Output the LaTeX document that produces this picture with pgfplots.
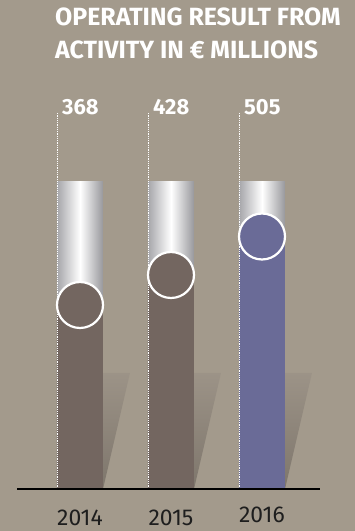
\documentclass[border=0pt]{standalone}
\usepackage{fontspec}
\setmainfont{Fira Sans}
\usepackage{pgfplots}
\pgfplotsset{compat=1.18}
\definecolor{bgcol}{HTML}{A39A8C}
\definecolor{barbrown}{HTML}{736660}
\definecolor{barpurple}{HTML}{6A6B97}
\definecolor{silverL}{HTML}{A6A6AA}
\definecolor{silverR}{HTML}{98989C}
\definecolor{shadowTop}{HTML}{9C9387}
\definecolor{shadowBot}{HTML}{7E766C}
\definecolor{yeartext}{HTML}{1E1E1E}
\pgfplotsset{
  silver/.style={ybar, bar shift=0pt, bar width=46bp, draw=none, left color=silverL, right color=silverR, middle color=white},
  shadow/.style={draw=none, top color=shadowTop, bottom color=shadowBot},
  guide/.style={white, densely dotted, line width=0.8bp},
}
\tikzset{
  vlabel/.style={anchor=base west, inner sep=0, text=white, font=\bfseries\fontsize{22}{24}\selectfont, xshift=5bp},
}
\begin{document}
\begin{tikzpicture}
\begin{axis}[
  at={(0,0)}, anchor=south west,
  scale only axis, width=355bp, height=531bp,
  xmin=-0.8791, xmax=3.0220, ymin=-84, ymax=978,
  axis background/.style={fill=bgcol},
  axis line style={draw=none}, tick style={draw=none},
  ytick=\empty, xtick={0,1,2},
  xticklabels={2014,2015,{\raisebox{2.5bp}{2016}}},
  xticklabel style={anchor=base, inner sep=0pt, text depth=0pt, yshift=6bp, font=\fontsize{23}{24}\selectfont, text=yeartext},
  /pgf/number format/assume math mode=true,
  clip=false,
]
% shadows
\addplot[shadow] coordinates {(0.2527,0) (0.2527,232) (0.549,232)} -- cycle;
\addplot[shadow] coordinates {(1.2527,0) (1.2527,232) (1.549,232)} -- cycle;
\addplot[shadow] coordinates {(2.2527,0) (2.2527,232) (2.549,232)} -- cycle;
% silver cylinders
\addplot[silver] coordinates {(0,614)};
\addplot[silver] coordinates {(1,614)};
\addplot[silver] coordinates {(2,614)};
% bars
\addplot[ybar, bar shift=0pt, bar width=46bp, draw=none, fill=barbrown] coordinates {(0,368) (1,428)};
\addplot[ybar, bar shift=0pt, bar width=46bp, draw=none, fill=barpurple] coordinates {(2,505)};
% dotted guides
\addplot[guide] coordinates {(-0.2527,0) (-0.2527,752)};
\addplot[guide] coordinates {(0.7473,0) (0.7473,752)};
\addplot[guide] coordinates {(1.7473,0) (1.7473,752)};
% circles
\addplot[only marks, mark=*, mark size=23bp, mark options={fill=barbrown, draw=white, line width=2.2bp}] coordinates {(0,368) (1,428)};
\addplot[only marks, mark=*, mark size=23bp, mark options={fill=barpurple, draw=white, line width=2.2bp}] coordinates {(2,505)};
% baseline
\addplot[black, line width=2.5bp] coordinates {(-0.692,0) (2.637,0)};
% value labels
\node[vlabel] at (axis cs:-0.2527,748) {368};
\node[vlabel] at (axis cs:0.7473,748) {428};
\node[vlabel] at (axis cs:1.7473,748) {505};
% title
\node[anchor=base west, inner sep=0, text=white, font=\bfseries\fontsize{25}{26}\selectfont] at (axis cs:-0.2747,926) {OPERATING RESULT FROM};
\node[anchor=base west, inner sep=0, text=white, font=\bfseries\fontsize{25}{26}\selectfont] at (axis cs:-0.2747,860) {ACTIVITY IN € MILLIONS};
\end{axis}
\end{tikzpicture}
\end{document}
